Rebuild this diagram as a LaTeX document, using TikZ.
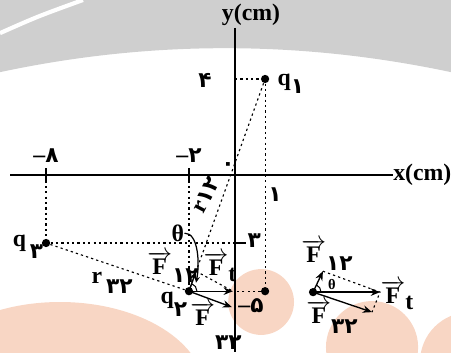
\documentclass[tikz,border=0pt]{standalone}
\usepackage{fontspec}
\setmainfont{Liberation Serif}
\newfontfamily\fa[Script=Arabic]{DejaVu Sans}
\usetikzlibrary{positioning}
\usetikzlibrary{calc}
\usetikzlibrary{arrows.meta}

\definecolor{bandgray}{RGB}{207,207,207}
\definecolor{blobpink}{RGB}{248,214,196}

\newcommand{\fd}[1]{{\fa\fontsize{10.5}{12}\selectfont #1}}
\newcommand{\vF}{$\overrightarrow{\textbf{F}}$}

\begin{document}
\begin{tikzpicture}[x=0.4cm, y=0.4cm,
    font=\bfseries\fontsize{11.5}{13}\selectfont,
    charge/.style={circle, fill=black, inner sep=0pt, minimum size=4pt},
    guide/.style={line width=0.55pt, dash pattern=on 1.1pt off 1.5pt},
    axis/.style={line width=0.6pt},
    force/.style={line width=0.65pt, -{Stealth[length=4.5pt, width=3.6pt]}},
    lab/.style={inner sep=0pt}]

    \useasboundingbox (-10,-7.53) rectangle (9.19,7.45);

    % background
    \fill[bandgray] (-10,7.45) -- (9.19,7.45) -- (9.19,4.38)
        .. controls (2.77,5.74) and (-3.62,5.74) .. (-10,4.38) -- cycle;
    \draw[white, line width=2pt] (-10,6.04) .. controls (-8.4,6.75) .. (-6.47,7.45);

    % axes
    \coordinate (xl) at (-9.57,0);
    \coordinate (xr) at (6.72,0);
    \coordinate (yt) at (0,6.26);
    \coordinate (yb) at (0,-7.53);
    \draw[axis] (xl) -- (xr);
    \draw[axis] (yt) -- (yb);
    \node[lab, anchor=west] (xlab) at (xr) {x(cm)};
    \node[lab] (ylab) at (0.68,6.81) {y(cm)};

    \coordinate (x8) at (-8.04,0);
    \coordinate (x2) at (-1.96,0);
    \coordinate (y4) at (0,4.09);
    \coordinate (y3) at (0,-2.89);
    \coordinate (y5) at (0,-4.94);
    \draw[axis] ($(x8)+(0,0.3)$) -- ($(x8)+(0,-0.35)$);
    \draw[axis] ($(x2)+(0,0.3)$) -- ($(x2)+(0,-0.35)$);
    \draw[axis] ($(y3)+(0.45,0)$) -- (y3);

    \node[lab] (t8) at (-8.04,0.81) {\textbf{--}\fd{۸}};
    \node[lab] (t2) at (-1.96,0.81) {\textbf{--}\fd{۲}};
    \node[lab] (t0) at (-0.30,0.36) {\fd{۰}};
    \node[lab] (t4) at (-1.28,4.04) {\fd{۴}};
    \node[lab] (t1) at (1.70,-0.85) {\fd{۱}};
    \node[lab] (t3) at (0.82,-2.78) {\fd{۳}};
    \node[lab] (t5) at (0.68,-5.57) {\textbf{--}\fd{۵}};

    % charges
    \node[charge] (q1) at (1.28,4.09) {};
    \node[charge] (q2) at (-1.96,-4.94) {};
    \node[charge] (q3) at (-8.04,-2.89) {};
    \node[charge] (p) at (1.28,-4.94) {};

    \node[lab] (lq1) at (2.38,3.87) {q\raisebox{-4pt}{\fd{۱}}};
    \node[lab] (lq3) at (-8.81,-3.06) {q\,\raisebox{-6pt}{\fd{۳}}};
    \node[lab] (lq2) at (-2.6,-5.49) {q\raisebox{-6pt}{\fd{۲}}};

    \draw[guide] (y4) -- (q1) -- (p) -- (y5);
    \draw[guide] (x8) -- (q3) -- (y3);
    \draw[guide] (x2) -- (q2);
    \draw[guide] (q1) -- (q2);
    \draw[guide] (q3) -- (q2);

    \node[lab] (r32) at (-5.23,-4.6) {r\,\raisebox{-5pt}{\fd{۳۲}}};
    \node[lab, rotate=62] (r12) at (-1.22,-0.85) {r\fd{۱۲}};

    % forces on q2
    \coordinate (f12) at ($(q2)+(0.30,0.85)$);
    \coordinate (ft) at ($(q2)+(1.87,0)$);
    \coordinate (f32) at ($(q2)+(1.83,-0.68)$);
    \draw[force] (q2.center) -- (f12);
    \draw[force] (q2.center) -- (ft);
    \draw[force] (q2.center) -- (f32);
    \draw[guide] (f12) -- (ft);
    \draw[line width=0.5pt] ($(q2)+(0.34,0)$) arc[start angle=0, end angle=70, radius=0.34];

    \node[lab] (th) at (-2.43,-2.47) {θ};
    \draw[line width=0.6pt, -{Stealth[length=3pt, width=2.6pt]}] (th.east)
        .. controls (-1.55,-2.45) and (-1.5,-3.8) .. ($(q2)+(0.3,0.36)$);

    \node[lab] (lf12) at (-2.64,-3.91) {\vF\raisebox{-4pt}{\fd{۱۲}}};
    \node[lab] (lft) at (-0.64,-3.91) {\vF\raisebox{-3pt}{t}};
    \node[lab] (lf32) at (-0.81,-6.43) {\vF\raisebox{-12pt}{\fd{۳۲}}};

    % resultant
    \node[charge] (o) at (3.32,-4.98) {};
    \coordinate (g12) at ($(o)+(0.42,0.89)$);
    \coordinate (gt) at ($(o)+(2.85,0)$);
    \coordinate (g32) at ($(o)+(2.51,-0.85)$);
    \draw[force] (o.center) -- (g12);
    \draw[force] (o.center) -- (gt);
    \draw[force] (o.center) -- (g32);
    \draw[guide] (g12) -- (gt) -- (g32);
    \draw[line width=0.5pt] ($(o)+(0.34,0)$) arc[start angle=0, end angle=65, radius=0.34];

    \node[lab, font=\bfseries\fontsize{7}{8}\selectfont] (th2) at (4.12,-4.66) {θ};
    \node[lab] (lg12) at (3.91,-3.40) {\vF\raisebox{-4pt}{\fd{۱۲}}};
    \node[lab] (lgt) at (6.89,-5.11) {\vF\raisebox{-3pt}{t}};
    \node[lab] (lg32) at (4.13,-6.04) {\vF\raisebox{-5pt}{\fd{۳۲}}};

    % blobs
    \begin{scope}[blend mode=multiply]
        \fill[blobpink] (1.11,-5.40) circle[radius=1.40];
        \fill[blobpink] (-7.45,-9.23) ellipse[x radius=6.17, y radius=3.83];
        \fill[blobpink] (5.83,-7.32) circle[radius=1.96];
        \fill[blobpink] (10,-7.96) circle[radius=2.13];
    \end{scope}

\end{tikzpicture}
\end{document}
